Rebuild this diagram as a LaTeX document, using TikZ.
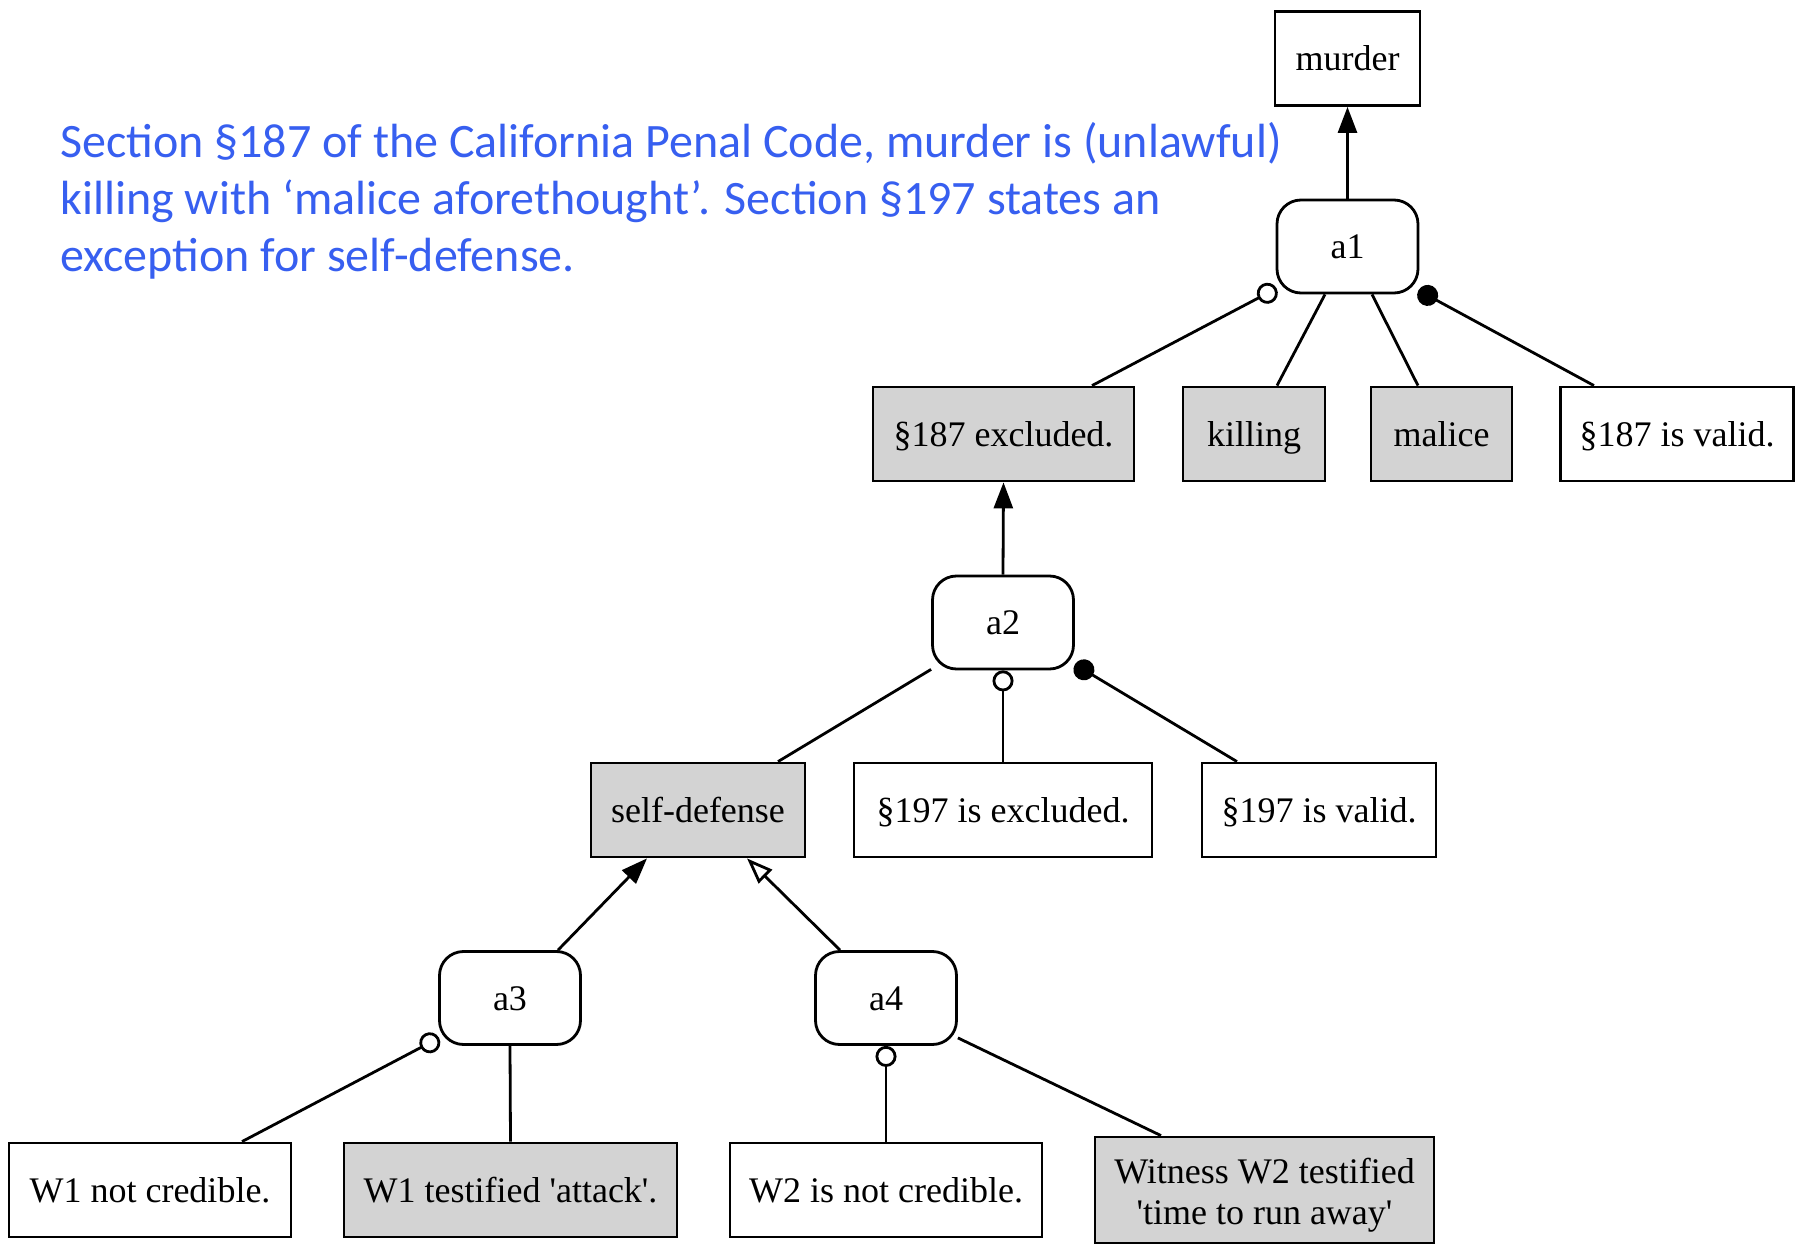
\documentclass[tikz,border=0pt]{standalone}
\usepackage{fontspec}
\setmainfont{Liberation Serif}
\newfontfamily\boxfont{Liberation Serif}[Ligatures=TeXOff]
\newfontfamily\notefont{Carlito}
\usetikzlibrary{arrows.meta,calc}
\definecolor{noteblue}{RGB}{55,95,240}
\definecolor{propgray}{RGB}{211,211,211}
\tikzset{
  nbase/.style={draw=black, line width=1.4pt, inner sep=0pt,
    font=\boxfont\fontsize{18pt}{20.5pt}\selectfont, align=center},
  oneline/.style={text height=16pt, text depth=4pt},
  prop/.style={nbase, oneline, fill=white, minimum height=47pt},
  given/.style={nbase, oneline, fill=propgray, minimum height=47pt},
  givenmulti/.style={nbase, fill=propgray},
  argnode/.style={nbase, oneline, fill=white, rounded corners=12pt, minimum width=70.5pt, minimum height=46.5pt},
  conn/.style={line width=1.4pt},
  supto/.style={conn, -{Triangle[length=13pt,width=9.5pt]}},
  opensupto/.style={conn, -{Triangle[open,fill=white,length=13pt,width=9.5pt]}},
  exto/.style={conn, -{Circle[open,fill=white,length=10.5pt]}},
  valto/.style={conn, -{Circle[length=10.5pt]}},
  note/.style={anchor=base west, inner sep=0pt, text=noteblue, font=\notefont\fontsize{24pt}{28.4pt}\selectfont}
}
\begin{document}
\begin{tikzpicture}[x=0.5pt,y=-0.5pt]
\useasboundingbox (0,0) rectangle (1796,1247);

% note text
\node[note] (t1) at (60,158) {Section §187 of the California Penal Code, murder is (unlawful)};
\node[note] (t2) at (60,214) {killing with ‘malice aforethought’. Section §197 states an};
\node[note] (t3) at (60,271) {exception for self-defense.};

% nodes
\node[prop, minimum width=72.5pt] (murder) at (1347.5,58.5) {murder};
\node[argnode] (a1) at (1347.5,246.5) {a1};

\node[given, minimum width=130.5pt] (ex187) at (1003.5,434) {§187 excluded.};
\node[given, minimum width=71pt] (killing) at (1254,434) {killing};
\node[given, minimum width=70.5pt] (malice) at (1441.5,434) {malice};
\node[prop, minimum width=116.5pt] (val187) at (1677,434) {§187 is valid.};

\node[argnode] (a2) at (1003,622.5) {a2};

\node[given, minimum width=107pt] (selfdef) at (698,810) {self-defense};
\node[prop, minimum width=149pt] (ex197) at (1003,810) {§197 is excluded.};
\node[prop, minimum width=117pt] (val197) at (1319,810) {§197 is valid.};

\node[argnode] (a3) at (510,998) {a3};
\node[argnode] (a4) at (886,998) {a4};

\node[prop, minimum width=141pt] (w1nc) at (150,1190) {W1 not credible.};
\node[given, minimum width=166.5pt] (w1t) at (510.5,1190) {W1 testified 'attack'.};
\node[prop, minimum width=156pt] (w2nc) at (886,1190) {W2 is not credible.};
\node[givenmulti, minimum width=169.5pt, minimum height=53pt] (w2t) at (1264.5,1190) {\rule{0pt}{17.5pt}Witness W2 testified\\'time to run away'};

% connectors
\draw[supto] (a1.north) -- (murder.south);
\draw[exto] ($(ex187.north)+(88.5,0)$) -- ($(a1.south west)+(1,-6)$);
\draw[conn] ($(killing.north)+(23,0)$) -- ($(a1.south)+(-22.5,0)$);
\draw[conn] ($(malice.north)+(-23.5,0)$) -- ($(a1.south)+(24.5,0)$);
\draw[valto] ($(val187.north)+(-83,0)$) -- ($(a1.south east)+(-1,-4)$);

\draw[supto] (a2.north) -- (ex187.south);
\draw[conn] ($(selfdef.north)+(80,0)$) -- ($(a2.south west)+(0,-1)$);
\draw[exto] (ex197.north) -- (a2.south);
\draw[valto] ($(val197.north)+(-82,0)$) -- ($(a2.south east)+(0,-6)$);

\draw[supto] ($(a3.north)+(48,0)$) -- ($(selfdef.south)+(-51,0)$);
\draw[opensupto] ($(a4.north)+(-46,0)$) -- ($(selfdef.south)+(49,0)$);

\draw[exto] ($(w1nc.north)+(92,0)$) -- ($(a3.south west)+(1,-8)$);
\draw[conn] (w1t.north) -- (a3.south);
\draw[exto] (w2nc.north) -- (a4.south);
\draw[conn] ($(w2t.north)+(-103.5,0)$) -- ($(a4.south east)+(0,-8)$);
\end{tikzpicture}
\end{document}
